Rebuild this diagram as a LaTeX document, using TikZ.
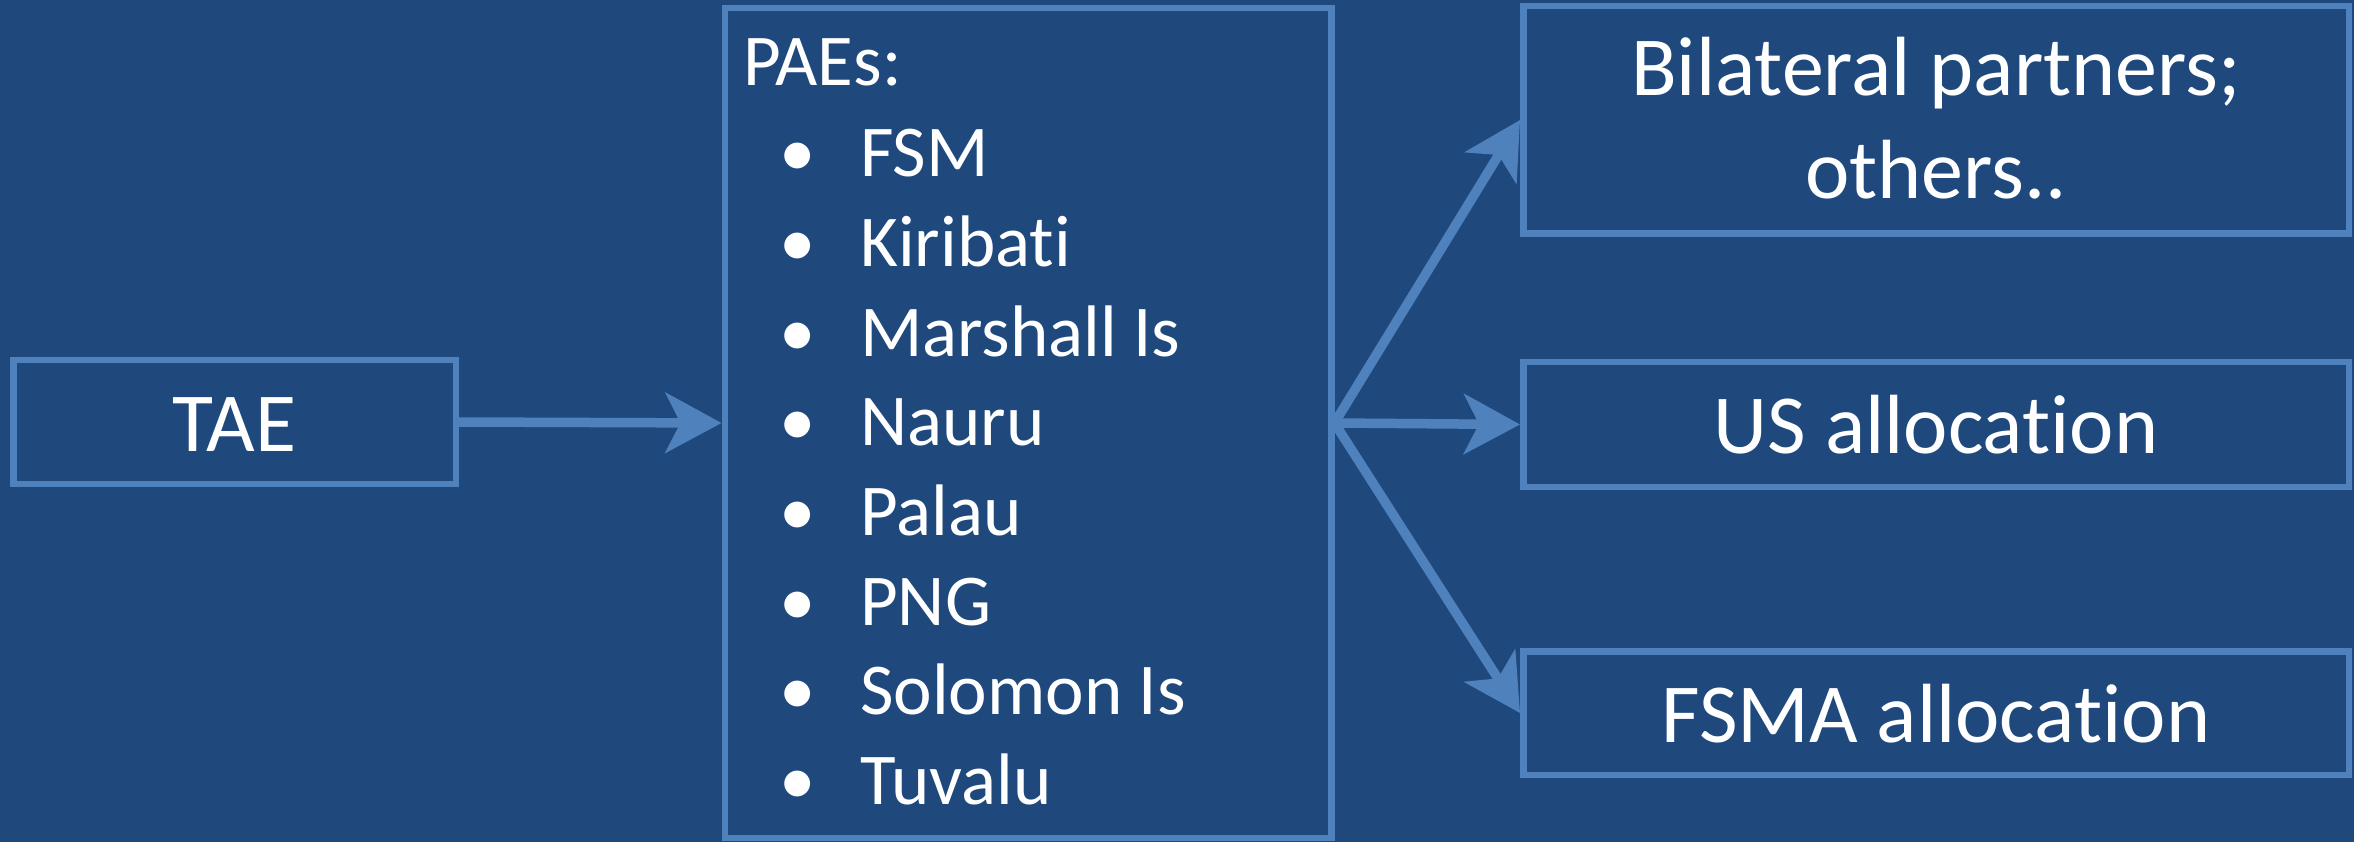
\documentclass[tikz,border=0pt]{standalone}
\usepackage{fontspec}
\setmainfont{Carlito}[Ligatures=NoCommon]
\usetikzlibrary{arrows.meta}
\definecolor{bg}{RGB}{31,73,125}
\definecolor{edge}{RGB}{79,129,189}
\begin{document}
\begin{tikzpicture}[x=1pt,y=-1pt,
  box/.style={draw=edge,fill=bg,line width=6.5pt,inner sep=0pt},
  big/.style={text=white,inner sep=0pt,font=\fontsize{84}{100}\selectfont},
  item/.style={text=white,inner sep=0pt,font=\fontsize{73}{88}\selectfont},
  arr/.style={draw=edge,line width=9.5pt,-{Stealth[length=56pt,width=60pt,inset=15pt]}}]
\fill[bg] (0,0) rectangle (2354,842);
\useasboundingbox (0,0) rectangle (2354,842);
% boxes
\node[box,minimum width=442.5pt,minimum height=123.5pt] (tae) at (234.5,422) {};
\node[box,minimum width=606.5pt,minimum height=830pt] (pae) at (1028,423) {};
\node[box,minimum width=825.5pt,minimum height=227.5pt] (bil) at (1936,120) {};
\node[box,minimum width=825.5pt,minimum height=124.5pt] (us) at (1936,424.5) {};
\node[box,minimum width=825.5pt,minimum height=123.5pt] (fsma) at (1936,713) {};
% labels
\node[big,anchor=base] (taet) at (234.5,451) {TAE};
\node[big,anchor=base] (bilt1) at (1936,96) {Bilateral partners;};
\node[big,anchor=base] (bilt2) at (1936,199) {others..};
\node[big,anchor=base] (ust) at (1936,453) {US allocation};
\node[big,anchor=base] (fsmat) at (1936,742) {FSMA allocation};
\node[item,anchor=base west] (paeh) at (743,86) {PAEs:};
\foreach \t [count=\i] in {FSM,Kiribati,Marshall Is,Nauru,Palau,PNG,Solomon Is,Tuvalu}{
  \node[item,anchor=base west] (it\i) at ({860},{177+89.6*(\i-1)}) {\t};
  \node[item,anchor=base] (bu\i) at ({798},{177+89.6*(\i-1)}) {•};
}
% connectors
\draw[arr] (tae.east) -- (pae.west);
\draw[arr] (pae.east) -- (bil.west);
\draw[arr] (pae.east) -- (us.west);
\draw[arr] (pae.east) -- (fsma.west);
\end{tikzpicture}
\end{document}
